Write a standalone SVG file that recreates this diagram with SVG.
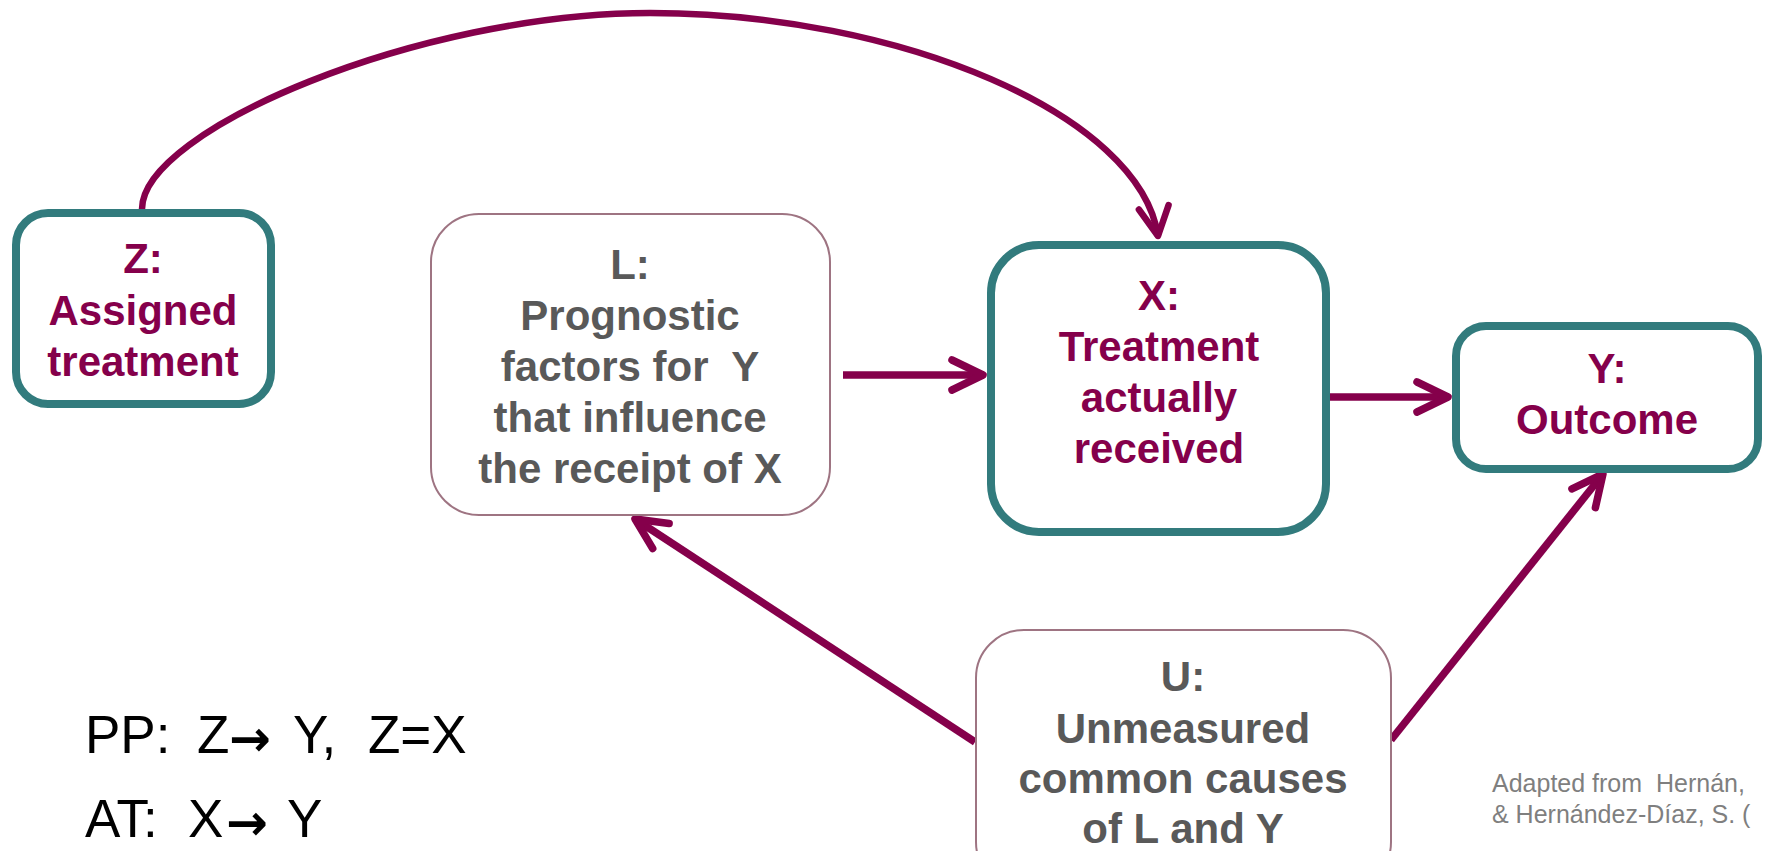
<svg xmlns="http://www.w3.org/2000/svg" width="1766" height="851" viewBox="0 0 1766 851">
  <style>
    .bg { fill: #ffffff; }
    .teal { fill: #ffffff; stroke: #327B7D; stroke-width: 8; }
    .mauve { fill: #ffffff; stroke: #9E7482; stroke-width: 2; }
    .lbl { font-family: "Liberation Sans", Arial, sans-serif; font-size: 42px; font-weight: bold; text-anchor: middle; }
    .mag { fill: #85004B; }
    .gray { fill: #595959; }
    .edge { fill: none; stroke: #85004B; stroke-width: 7.5; stroke-linecap: butt; }
    .curve { stroke-width: 6.5; }
    .note { font-family: "Liberation Sans", Arial, sans-serif; font-size: 53px; fill: #000000; white-space: pre; }
    .arr { font-family: "DejaVu Sans", sans-serif; font-weight: bold; font-size: 50px; }
    .cite { font-family: "Liberation Sans", Arial, sans-serif; font-size: 25px; fill: #7F7F7F; white-space: pre; }
  </style>
  <defs>
    <marker id="chev" markerUnits="userSpaceOnUse" viewBox="-40 -25 50 50" refX="0" refY="0" markerWidth="50" markerHeight="50" orient="auto" overflow="visible">
      <path d="M-31,-15 L0,0 L-31,15" fill="none" stroke="#85004B" stroke-width="7.5" stroke-linecap="round" stroke-linejoin="round"/>
    </marker>
    <marker id="chev2" markerUnits="userSpaceOnUse" viewBox="-40 -25 50 50" refX="0" refY="0" markerWidth="50" markerHeight="50" orient="auto" overflow="visible">
      <path d="M-29,-15 L0,0 L-29,15" fill="none" stroke="#85004B" stroke-width="6.5" stroke-linecap="round" stroke-linejoin="round"/>
    </marker>
  </defs>
  <rect class="bg" x="0" y="0" width="1766" height="851"/>

  <g id="connectors">
    <path class="edge curve" d="M142,209 C142,130 420,13 650,13 C900,13 1140,115 1158,236" marker-end="url(#chev2)"/>
    <path class="edge" d="M843,375 L983,375" marker-end="url(#chev)"/>
    <path class="edge" d="M1330,397 L1448,397" marker-end="url(#chev)"/>
    <path class="edge" d="M975,742 L635,519" marker-end="url(#chev)"/>
    <path class="edge" d="M1391,740 L1603,474" marker-end="url(#chev)"/>
  </g>

  <g id="node-Z">
    <rect class="teal" x="16" y="213" width="255" height="191" rx="32"/>
    <text class="lbl mag" x="143" y="273">Z:</text>
    <text class="lbl mag" x="143" y="325">Assigned</text>
    <text class="lbl mag" x="143" y="376">treatment</text>
  </g>

  <g id="node-L">
    <rect class="mauve" x="431" y="214" width="399" height="301" rx="48"/>
    <text class="lbl gray" x="630" y="279">L:</text>
    <text class="lbl gray" x="630" y="330">Prognostic</text>
    <text class="lbl gray" x="630" y="381" xml:space="preserve">factors for  Y</text>
    <text class="lbl gray" x="630" y="432">that influence</text>
    <text class="lbl gray" x="630" y="483">the receipt of X</text>
  </g>

  <g id="node-X">
    <rect class="teal" x="991" y="245" width="335" height="287" rx="48"/>
    <text class="lbl mag" x="1159" y="310">X:</text>
    <text class="lbl mag" x="1159" y="361">Treatment</text>
    <text class="lbl mag" x="1159" y="412">actually</text>
    <text class="lbl mag" x="1159" y="463">received</text>
  </g>

  <g id="node-Y">
    <rect class="teal" x="1456" y="326" width="302" height="143" rx="30"/>
    <text class="lbl mag" x="1607" y="383">Y:</text>
    <text class="lbl mag" x="1607" y="434">Outcome</text>
  </g>

  <g id="node-U">
    <rect class="mauve" x="976" y="630" width="415" height="260" rx="48"/>
    <text class="lbl gray" x="1183" y="691">U:</text>
    <text class="lbl gray" x="1183" y="743">Unmeasured</text>
    <text class="lbl gray" x="1183" y="793">common causes</text>
    <text class="lbl gray" x="1183" y="843">of L and Y</text>
  </g>

  <g id="notes">
    <text class="note" y="753" xml:space="preserve"><tspan x="85">PP:</tspan><tspan x="197">Z</tspan><tspan class="arr" x="229" dy="3">→</tspan><tspan x="293" dy="-3">Y,</tspan><tspan x="368">Z=X</tspan></text>
    <text class="note" y="837" xml:space="preserve"><tspan x="85">AT:</tspan><tspan x="188">X</tspan><tspan class="arr" x="226" dy="3">→</tspan><tspan x="287" dy="-3">Y</tspan></text>
    <text class="cite" x="1492" y="792" xml:space="preserve">Adapted from  Hernán,</text>
    <text class="cite" x="1492" y="823" xml:space="preserve">&amp; Hernández-Díaz, S. (</text>
  </g>
</svg>
